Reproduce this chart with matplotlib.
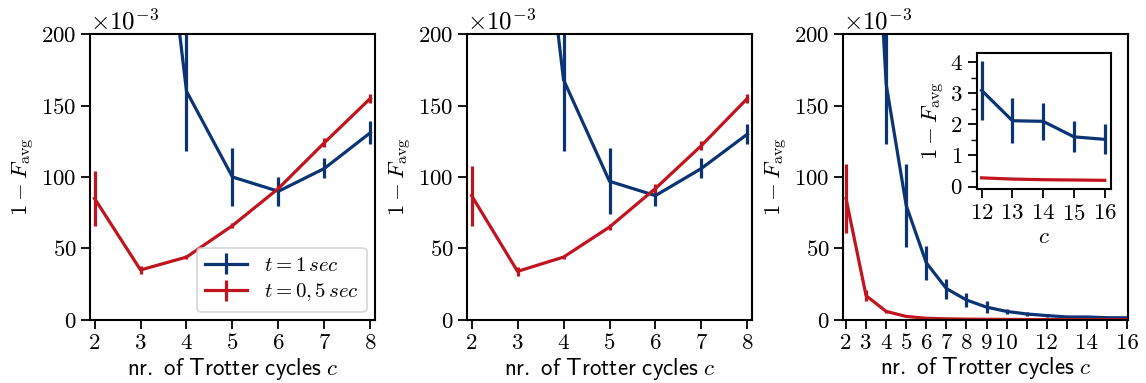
import matplotlib
matplotlib.use('Agg')
import matplotlib.pyplot as plt
from matplotlib.ticker import ScalarFormatter, MultipleLocator, FixedLocator, FixedFormatter
import numpy as np

plt.rcParams['font.family'] = ['cmr10', 'DejaVu Sans']
plt.rcParams['mathtext.fontset'] = 'cm'
plt.rcParams['axes.unicode_minus'] = False
plt.rcParams['axes.formatter.use_mathtext'] = True
plt.rcParams['font.size'] = 16.5

BLUE = '#0b3474'
RED = '#c0141e'

# --- data (values of 1 - F_avg) ---
c_short = [2, 3, 4, 5, 6, 7, 8]
c_long = [2, 3, 4, 5, 6, 7, 8, 9, 10, 11, 12, 13, 14, 15, 16]

# panel 1
p1_blue = [0.900, 0.430, 0.160, 0.100, 0.090, 0.106, 0.131]
p1_blue_err = [0.150, 0.090, 0.042, 0.020, 0.010, 0.007, 0.008]
p1_red = [0.085, 0.035, 0.044, 0.066, 0.092, 0.124, 0.155]
p1_red_err = [0.019, 0.003, 0.0015, 0.0015, 0.002, 0.003, 0.003]

# panel 2
p2_blue = [0.900, 0.440, 0.168, 0.097, 0.087, 0.106, 0.130]
p2_blue_err = [0.150, 0.090, 0.050, 0.023, 0.007, 0.007, 0.007]
p2_red = [0.087, 0.034, 0.044, 0.065, 0.092, 0.122, 0.155]
p2_red_err = [0.021, 0.003, 0.001, 0.002, 0.003, 0.003, 0.003]

# panel 3
p3_blue = [0.900, 0.420, 0.165, 0.080, 0.040, 0.022, 0.014, 0.009, 0.006,
           0.0042, 0.0031, 0.00212, 0.0021, 0.0016, 0.00152]
p3_blue_err = [0.150, 0.090, 0.042, 0.029, 0.012, 0.007, 0.005, 0.004, 0.002,
               0.0012, 0.00095, 0.00072, 0.0006, 0.0005, 0.00048]
p3_red = [0.085, 0.017, 0.006, 0.0025, 0.0012, 0.0008, 0.0006, 0.0005, 0.0004,
          0.00032, 0.00028, 0.00024, 0.00022, 0.00021, 0.0002]
p3_red_err = [0.024, 0.004, 0.001, 0.0004, 0.0002, 0.0001, 0.0001, 0.0001, 0.0001,
              0.00005, 0.00004, 0.00003, 0.00003, 0.00003, 0.00003]

inset_c = [12, 13, 14, 15, 16]

labels = [r'$t=1\,sec$', r'$t=0,5\,sec$']
xlabel = r'$\mathsf{nr.\ of\ Trotter\ cycles}\ c$'
ylabel = r'$1-F_{\rm avg}$'

lw = 2.3


def draw(ax, x, blue, blue_err, red, red_err):
    ax.errorbar(x, blue, yerr=blue_err, color=BLUE, lw=lw, elinewidth=lw, label=labels[0])
    ax.errorbar(x, red, yerr=red_err, color=RED, lw=lw, elinewidth=lw, label=labels[1])


def style(ax):
    ax.set_ylim(0, 0.2)
    ax.yaxis.set_major_locator(MultipleLocator(0.05))
    fmt = ScalarFormatter(useMathText=True)
    fmt.set_powerlimits((-3, -3))
    ax.yaxis.set_major_formatter(fmt)
    ax.yaxis.get_offset_text().set_fontsize(18)
    ax.tick_params(direction='out', length=6.5, width=1.3, pad=3)
    for s in ax.spines.values():
        s.set_linewidth(1.5)
    ax.set_xlabel(xlabel, labelpad=2)
    ax.set_ylabel(ylabel, labelpad=3)


fig = plt.figure(figsize=(11.46, 3.83), dpi=100)
ax1 = fig.add_axes([0.0785, 0.1645, 0.2487, 0.7467])
ax2 = fig.add_axes([0.4075, 0.1645, 0.2487, 0.7467])
ax3 = fig.add_axes([0.7356, 0.1645, 0.2487, 0.7467])

draw(ax1, c_short, p1_blue, p1_blue_err, p1_red, p1_red_err)
draw(ax2, c_short, p2_blue, p2_blue_err, p2_red, p2_red_err)
draw(ax3, c_long, p3_blue, p3_blue_err, p3_red, p3_red_err)

for ax in (ax1, ax2):
    style(ax)
    ax.set_xlim(1.9, 8.1)
    ax.set_xticks(c_short)
style(ax3)
ax3.set_xlim(1.85, 16.05)
ax3.xaxis.set_major_locator(FixedLocator(c_long))
ax3.xaxis.set_major_formatter(FixedFormatter(
    [str(c) if (c <= 10 or c % 2 == 0) else '' for c in c_long]))

leg = ax1.legend(loc='lower right', fontsize=15, handlelength=2.0,
                 borderpad=0.4, labelspacing=0.3, borderaxespad=0.4, fancybox=True)
leg.get_frame().set_edgecolor('#cccccc')
leg.get_frame().set_linewidth(1.2)

# inset
ins = fig.add_axes([0.8525, 0.5065, 0.1169, 0.355])
ins.errorbar(inset_c, np.array(p3_blue[-5:]) * 1e3, yerr=np.array(p3_blue_err[-5:]) * 1e3,
             color=BLUE, lw=lw, elinewidth=lw)
ins.plot(inset_c, np.array(p3_red[-5:]) * 1e3, color=RED, lw=lw)
ins.set_xlim(11.85, 16.2)
ins.set_ylim(-0.08, 4.3)
ins.set_xticks(inset_c)
ins.yaxis.set_major_locator(MultipleLocator(1))
ins.yaxis.set_minor_locator(MultipleLocator(0.5))
ins.tick_params(direction='out', length=6.5, width=1.3, pad=4)
ins.tick_params(which='minor', direction='out', length=4, width=1.0)
for s in ins.spines.values():
    s.set_linewidth(1.5)
ins.set_xlabel(r'$c$', labelpad=3)
ins.set_ylabel(ylabel, labelpad=2)

fig.savefig('out.png', dpi=100)
